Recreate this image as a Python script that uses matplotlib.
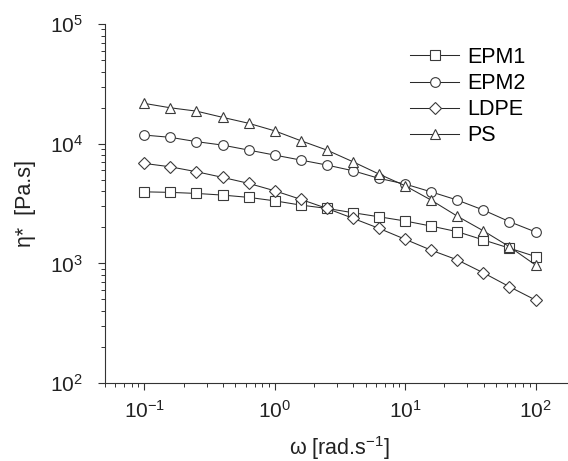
import matplotlib
matplotlib.use("Agg")
import matplotlib.pyplot as plt
from matplotlib.ticker import LogLocator, NullFormatter

plt.rcParams["font.family"] = ["Liberation Sans", "DejaVu Sans"]
plt.rcParams["mathtext.fontset"] = "custom"
plt.rcParams["mathtext.rm"] = "Liberation Sans"
plt.rcParams["mathtext.it"] = "Liberation Sans:italic"

# angular frequency [rad/s]
omega = [0.1, 0.158, 0.251, 0.398, 0.631, 1.0, 1.58, 2.51, 3.98, 6.31,
         10.0, 15.8, 25.1, 39.8, 63.1, 100.0]

epm1 = [3960, 3920, 3840, 3720, 3560, 3330, 3070, 2880, 2650, 2450,
        2260, 2050, 1840, 1570, 1340, 1140]
epm2 = [11800, 11300, 10400, 9730, 8840, 8030, 7300, 6630, 5940, 5130,
        4600, 3960, 3380, 2790, 2230, 1830]
ldpe = [6840, 6410, 5830, 5230, 4660, 4040, 3430, 2880, 2380, 1960,
        1590, 1290, 1070, 834, 638, 494]
ps = [21700, 19950, 18700, 16600, 14800, 12800, 10600, 8840, 7060, 5570,
      4450, 3380, 2480, 1870, 1377, 968]

series = [
    ("EPM1", epm1, "s"),
    ("EPM2", epm2, "o"),
    ("LDPE", ldpe, "D"),
    ("PS", ps, "^"),
]
marker_sizes = {"s": 6.5, "o": 7, "D": 6, "^": 7.5}

fig = plt.figure(figsize=(5.68, 4.61), dpi=100)
ax = fig.add_axes([0.185, 0.169, 0.827, 0.779])

for label, values, marker in series:
    ax.plot(omega, values, color="#2a2a2a", linewidth=0.75,
            marker=marker, markersize=marker_sizes[marker],
            markerfacecolor="white", markeredgecolor="#3a3a3a",
            markeredgewidth=0.8, label=label)

ax.set_xscale("log")
ax.set_yscale("log")
ax.set_xlim(0.05, 200)
ax.set_ylim(100, 1e5)

ax.xaxis.set_major_locator(LogLocator(base=10, numticks=10))
ax.yaxis.set_major_locator(LogLocator(base=10, numticks=10))
ax.xaxis.set_minor_locator(LogLocator(base=10, subs=range(2, 10), numticks=100))
ax.yaxis.set_minor_locator(LogLocator(base=10, subs=range(2, 10), numticks=100))
ax.xaxis.set_minor_formatter(NullFormatter())
ax.yaxis.set_minor_formatter(NullFormatter())

ax.spines["top"].set_visible(False)
ax.spines["right"].set_visible(False)
ax.spines["left"].set_color("#333333")
ax.spines["bottom"].set_color("#333333")
ax.tick_params(which="major", direction="out", length=5, width=0.8,
               labelsize=15, colors="#333333", labelcolor="#222222")
ax.tick_params(which="minor", direction="out", length=3, width=0.7,
               colors="#333333")
ax.tick_params(axis="x", pad=7)
ax.tick_params(axis="y", pad=11)

ax.set_xlabel("ω [rad.s$^{-1}$]", fontsize=15.5, labelpad=9, color="#222222")
ax.set_ylabel("η*  [Pa.s]", fontsize=15.5, labelpad=10, color="#222222")

ax.legend(loc="upper left", bbox_to_anchor=(0.649, 0.936), frameon=False,
          fontsize=15.5, handlelength=2.3, handletextpad=0.37,
          labelspacing=0.24, borderaxespad=0, borderpad=0)

fig.savefig("out.png", dpi=100)
